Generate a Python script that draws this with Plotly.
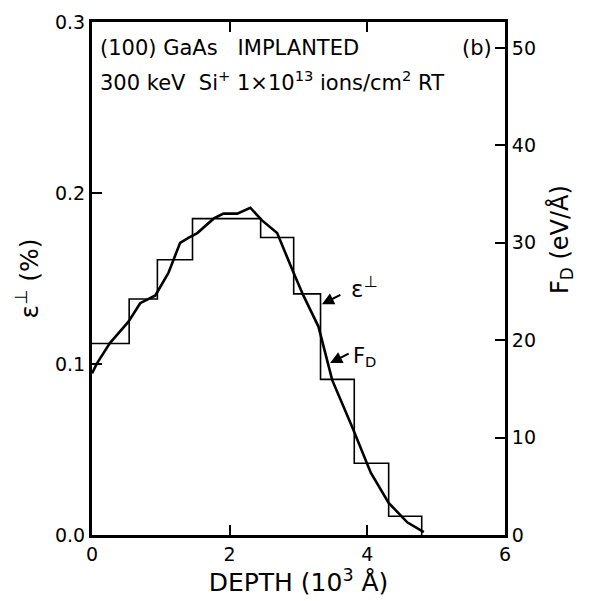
import plotly.graph_objects as go

# Step profile of strain (epsilon_perp, %) vs depth (10^3 Å)
step_depth = [0.0, 0.54, 0.95, 1.46, 2.45, 2.93, 3.32, 3.81, 4.31, 4.79]
step_strain = [0.112, 0.138, 0.161, 0.185, 0.174, 0.141, 0.091, 0.042, 0.011, 0.0]

# Damage energy F_D (eV/Å) vs depth
fd_depth = [0.0, 0.07, 0.26, 0.53, 0.70, 0.92, 1.11, 1.28, 1.40, 1.53, 1.77, 1.91,
            2.11, 2.30, 2.47, 2.69, 2.93, 3.07, 3.29, 3.49, 3.78, 4.05, 4.31, 4.58, 4.82]
fd_value = [16.6, 17.6, 19.7, 21.9, 23.8, 24.6, 26.9, 30.0, 30.5, 31.0, 32.5, 33.0,
            33.0, 33.6, 32.3, 31.0, 26.9, 24.6, 21.4, 15.9, 11.1, 6.4, 3.3, 1.3, 0.3]

x_ticks = [0, 2, 4, 6]
y_ticks = [0.0, 0.1, 0.2, 0.3]
y_tick_text = ["0.0", "0.1", "0.2", "0.3"]
y2_ticks = [0, 10, 20, 30, 40, 50]

FONT = "DejaVu Sans"
fig = go.Figure()
fig.add_trace(go.Scatter(x=step_depth, y=step_strain, mode="lines", line_shape="hv",
                         line=dict(color="black", width=1.6), showlegend=False))
fig.add_trace(go.Scatter(x=fd_depth, y=fd_value, mode="lines", yaxis="y2",
                         line=dict(color="black", width=2.6), showlegend=False))

axis_common = dict(showline=True, linecolor="black", linewidth=3,
                   ticks="inside", ticklen=10, tickwidth=1.5, tickcolor="black",
                   showgrid=False, zeroline=False,
                   tickfont=dict(family=FONT, size=19, color="black"))

fig.update_layout(
    width=591, height=601,
    margin=dict(l=92, r=86, t=22, b=66),
    paper_bgcolor="white", plot_bgcolor="white",
    xaxis=dict(range=[0, 6], tickvals=x_ticks, mirror="ticks",
               title=dict(text="DEPTH (10<sup>3</sup> Å)", font=dict(family=FONT, size=25, color="black"), standoff=4),
               **axis_common),
    yaxis=dict(range=[0, 0.3], tickvals=y_ticks, ticktext=y_tick_text,
               title=dict(text="ε<sup>⊥</sup> (%)", font=dict(family=FONT, size=25, color="black"), standoff=10),
               **axis_common),
    yaxis2=dict(range=[0, 52.67], tickvals=y2_ticks, overlaying="y", side="right",
                **axis_common),
)

# right axis title (placed above centre as in the reference)
fig.add_annotation(xref="paper", yref="paper", x=1.0, y=0.465, xshift=56, xanchor="center", yanchor="bottom",
                   text="F<sub>D</sub> (eV/Å)", textangle=-90, showarrow=False,
                   font=dict(family=FONT, size=24, color="black"))

ann_font = dict(family=FONT, size=21, color="black")
fig.add_annotation(xref="paper", yref="paper", x=0.015, y=0.95, xanchor="left", yanchor="middle",
                   text="(100) GaAs   IMPLANTED", showarrow=False, font=ann_font)
fig.add_annotation(xref="paper", yref="paper", x=0.015, y=0.885, xanchor="left", yanchor="middle",
                   text="300 keV  Si<sup>+</sup> 1×10<sup>13</sup> ions/cm<sup>2</sup> RT", showarrow=False, font=ann_font)
fig.add_annotation(xref="paper", yref="paper", x=0.932, y=0.95, xanchor="center", yanchor="middle",
                   text="(b)", showarrow=False, font=ann_font)

# arrows
fig.add_annotation(x=3.34, y=0.135, xref="x", yref="y", text="", showarrow=True,
                   ax=20, ay=-10, arrowhead=2, arrowsize=1.2, arrowwidth=2, arrowcolor="black")
fig.add_annotation(x=3.46, y=0.1006, xref="x", yref="y", text="", showarrow=True,
                   ax=20, ay=-10, arrowhead=2, arrowsize=1.2, arrowwidth=2, arrowcolor="black")
fig.add_annotation(x=3.74, y=0.145, xref="x", yref="y", xanchor="left", yanchor="middle",
                   text="ε<sup>⊥</sup>", showarrow=False, font=dict(family=FONT, size=23, color="black"))
fig.add_annotation(x=3.76, y=0.104, xref="x", yref="y", xanchor="left", yanchor="middle",
                   text="F<sub>D</sub>", showarrow=False, font=dict(family=FONT, size=21, color="black"))

fig.write_html("out.html")
